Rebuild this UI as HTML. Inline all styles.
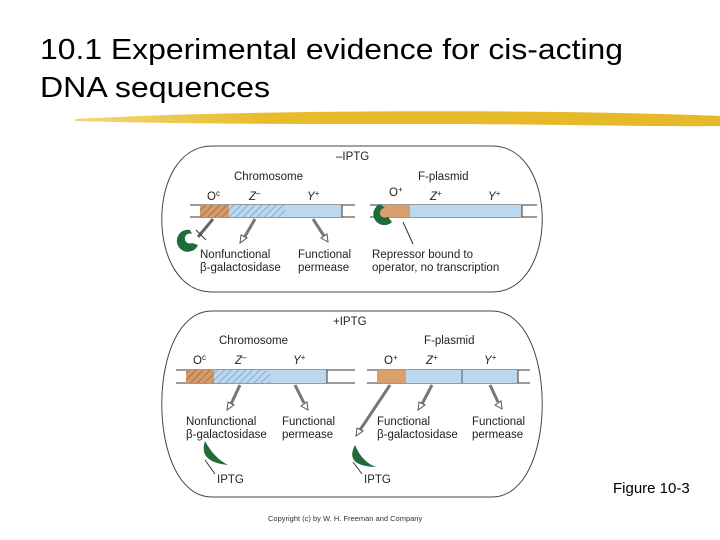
<!DOCTYPE html>
<html><head><style>
html,body{margin:0;padding:0;background:#fff;}
svg{display:block;font-family:"Liberation Sans",Arial,sans-serif;}
</style></head><body>
<svg width="720" height="540" viewBox="0 0 720 540" xmlns="http://www.w3.org/2000/svg">
<defs>
<pattern id="hb" width="5" height="5" patternUnits="userSpaceOnUse" patternTransform="rotate(45)">
<rect width="5" height="5" fill="#d49a6a"/><line x1="0" y1="0" x2="0" y2="5" stroke="#8a5a30" stroke-width="1.2"/></pattern>
<pattern id="hz" width="5" height="5" patternUnits="userSpaceOnUse" patternTransform="rotate(45)">
<rect width="5" height="5" fill="#bcd8ef"/><line x1="0" y1="0" x2="0" y2="5" stroke="#6a8fb0" stroke-width="1.2"/></pattern>
<linearGradient id="yel" x1="0" x2="1"><stop offset="0" stop-color="#f2d87a"/><stop offset="0.3" stop-color="#e8bb28"/><stop offset="1" stop-color="#e6b82a"/></linearGradient>
</defs>
<text x="40" y="59" font-size="29" textLength="583" lengthAdjust="spacingAndGlyphs">10.1 Experimental evidence for cis-acting</text>
<text x="40" y="97" font-size="29" textLength="230" lengthAdjust="spacingAndGlyphs">DNA sequences</text>
<path d="M75 119 C200 112 400 110 560 112 C640 113 700 115 720 116 L720 126 C650 127 550 124 420 124 C300 124 180 124 75 121 Z" fill="url(#yel)"/>

<g font-size="11.5" fill="#222">
<path d="M212 146 H492 C559 146 559 292 492 292 H212 C145 292 145 146 212 146 Z" fill="none" stroke="#444" stroke-width="1"/>
<text x="336" y="160">–IPTG</text>
<text x="234" y="180">Chromosome</text>
<text x="418" y="180">F-plasmid</text>
<text x="207" y="200">O<tspan font-size="8" dy="-4">c</tspan></text>
<text x="249" y="200" font-style="italic">Z<tspan font-size="8" dy="-4">–</tspan></text>
<text x="307" y="200" font-style="italic">Y<tspan font-size="8" dy="-4">+</tspan></text>
<text x="389" y="196">O<tspan font-size="8" dy="-4">+</tspan></text>
<text x="430" y="200" font-style="italic">Z<tspan font-size="8" dy="-4">+</tspan></text>
<text x="488" y="200" font-style="italic">Y<tspan font-size="8" dy="-4">+</tspan></text>
<line x1="190" y1="205" x2="355" y2="205" stroke="#333"/><line x1="190" y1="217" x2="355" y2="217" stroke="#333"/>
<rect x="200" y="205" width="29" height="12" fill="url(#hb)"/>
<rect x="229" y="205" width="56" height="12" fill="url(#hz)"/>
<rect x="285" y="205" width="57" height="12" fill="#bcd8ef"/>
<line x1="342" y1="205" x2="342" y2="217" stroke="#333"/>
<line x1="370" y1="205" x2="537" y2="205" stroke="#333"/><line x1="370" y1="217" x2="537" y2="217" stroke="#333"/>
<rect x="380" y="205" width="30" height="12" fill="#d9a06e"/>
<rect x="410" y="205" width="112" height="12" fill="#bcd8ef"/>
<line x1="522" y1="205" x2="522" y2="217" stroke="#333"/>
<path d="M380 204 a11 11 0 1 0 12 18 l-4 -5 a5 5 0 1 1 -3 -9 Z" fill="#1f6b3a"/>
<line x1="403" y1="222" x2="413" y2="244" stroke="#333"/>
<path d="M190 230 a11 11 0 1 0 8 15 l-6 -2 a5 5 0 1 1 0 -9 Z" fill="#1f6b3a"/>
<line x1="213" y1="219" x2="198" y2="237" stroke="#666" stroke-width="3"/>
<line x1="196" y1="230" x2="206" y2="240" stroke="#333"/>
<line x1="255" y1="219" x2="244" y2="238" stroke="#777" stroke-width="3"/>
<path d="M240 243 l1 -8 l6 3 z" fill="#fff" stroke="#555"/>
<line x1="313" y1="219" x2="324" y2="236" stroke="#777" stroke-width="3"/>
<path d="M328 242 l-7 -4 l6 -4 z" fill="#fff" stroke="#555"/>
<text x="200" y="258">Nonfunctional</text><text x="200" y="271">β-galactosidase</text>
<text x="298" y="258">Functional</text><text x="298" y="271">permease</text>
<text x="372" y="258">Repressor bound to</text><text x="372" y="271">operator, no transcription</text>

<path d="M212 311 H492 C559 311 559 497 492 497 H212 C145 497 145 311 212 311 Z" fill="none" stroke="#444" stroke-width="1"/>
<text x="333" y="325">+IPTG</text>
<text x="219" y="344">Chromosome</text>
<text x="424" y="344">F-plasmid</text>
<text x="193" y="364">O<tspan font-size="8" dy="-4">c</tspan></text>
<text x="235" y="364" font-style="italic">Z<tspan font-size="8" dy="-4">–</tspan></text>
<text x="293" y="364" font-style="italic">Y<tspan font-size="8" dy="-4">+</tspan></text>
<text x="384" y="364">O<tspan font-size="8" dy="-4">+</tspan></text>
<text x="426" y="364" font-style="italic">Z<tspan font-size="8" dy="-4">+</tspan></text>
<text x="484" y="364" font-style="italic">Y<tspan font-size="8" dy="-4">+</tspan></text>
<line x1="176" y1="370" x2="355" y2="370" stroke="#333"/><line x1="176" y1="383" x2="355" y2="383" stroke="#333"/>
<rect x="186" y="370" width="28" height="13" fill="url(#hb)"/>
<rect x="214" y="370" width="56" height="13" fill="url(#hz)"/>
<rect x="270" y="370" width="57" height="13" fill="#bcd8ef"/>
<line x1="327" y1="370" x2="327" y2="383" stroke="#333"/>
<line x1="367" y1="370" x2="530" y2="370" stroke="#333"/><line x1="367" y1="383" x2="530" y2="383" stroke="#333"/>
<rect x="377" y="370" width="29" height="13" fill="#d9a06e"/>
<rect x="406" y="370" width="112" height="13" fill="#bcd8ef"/>
<line x1="462" y1="370" x2="462" y2="383" stroke="#555"/>
<line x1="518" y1="370" x2="518" y2="383" stroke="#333"/>
<line x1="240" y1="385" x2="231" y2="404" stroke="#777" stroke-width="3"/><path d="M227 410 l1 -8 l6 3 z" fill="#fff" stroke="#555"/>
<line x1="295" y1="385" x2="304" y2="403" stroke="#777" stroke-width="3"/><path d="M308 410 l-7 -4 l6 -4 z" fill="#fff" stroke="#555"/>
<line x1="390" y1="385" x2="360" y2="430" stroke="#777" stroke-width="3"/><path d="M356 436 l1 -8 l6 3 z" fill="#fff" stroke="#555"/>
<line x1="432" y1="385" x2="422" y2="404" stroke="#777" stroke-width="3"/><path d="M418 410 l1 -8 l6 3 z" fill="#fff" stroke="#555"/>
<line x1="490" y1="385" x2="498" y2="402" stroke="#777" stroke-width="3"/><path d="M502 409 l-7 -4 l6 -4 z" fill="#fff" stroke="#555"/>
<text x="186" y="425">Nonfunctional</text><text x="186" y="438">β-galactosidase</text>
<text x="282" y="425">Functional</text><text x="282" y="438">permease</text>
<text x="377" y="425">Functional</text><text x="377" y="438">β-galactosidase</text>
<text x="472" y="425">Functional</text><text x="472" y="438">permease</text>
<path d="M205 441 Q198 462 228 465 Q214 458 205 441 Z" fill="#1f6b3a"/>
<line x1="205" y1="460" x2="215" y2="474" stroke="#333"/>
<text x="217" y="483">IPTG</text>
<path d="M355 445 Q344 466 376 467 Q362 462 355 445 Z" fill="#1f6b3a"/>
<line x1="353" y1="462" x2="362" y2="474" stroke="#333"/>
<text x="364" y="483">IPTG</text>
</g>
<text x="613" y="493" font-size="15">Figure 10-3</text>
<text x="268" y="521" font-size="7.5" fill="#333">Copyright (c) by W. H. Freeman and Company</text>
</svg>
</body></html>
